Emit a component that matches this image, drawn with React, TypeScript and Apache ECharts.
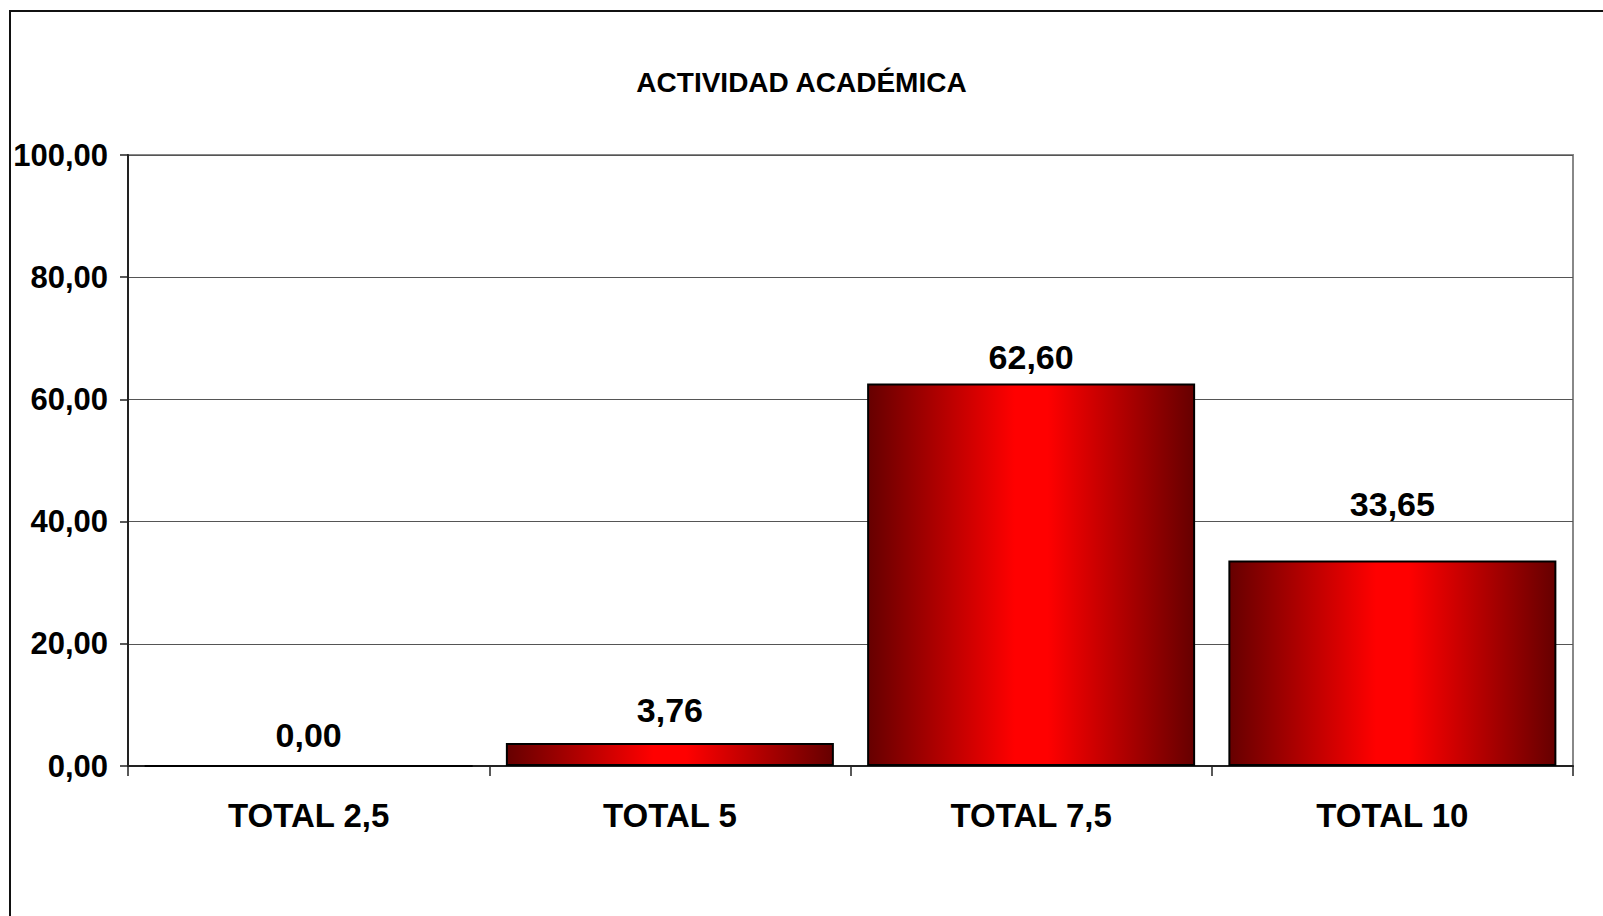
import React, { useEffect, useRef } from "react";
import * as echarts from "echarts";

const categories = ["TOTAL 2,5", "TOTAL 5", "TOTAL 7,5", "TOTAL 10"];
const values = [0.0, 3.76, 62.6, 33.65];
const titleText = "ACTIVIDAD ACADÉMICA";
const yMin = 0;
const yMax = 100;
const yInterval = 20;

const FONT = "'Liberation Sans', Arial, sans-serif";
const fmt = (v: number) => Number(v).toFixed(2).replace(".", ",");

export default function App() {
  const ref = useRef<HTMLDivElement>(null);
  useEffect(() => {
    if (!ref.current) return;
    const chart = echarts.init(ref.current, null, { renderer: "svg" });
    const grad = new echarts.graphic.LinearGradient(0, 0, 1, 0, [
      { offset: 0, color: "#660000" },
      { offset: 0.45, color: "#ff0000" },
      { offset: 0.55, color: "#ff0000" },
      { offset: 1, color: "#660000" },
    ]);
    // label vertical nudges (style only), matching the reference placement
    const labelNudge = [-3, -6, 0, -29];
    chart.setOption({
      animation: false,
      backgroundColor: "#ffffff",
      title: {
        text: titleText,
        left: "center",
        top: 63,
        textStyle: { fontFamily: FONT, fontWeight: "bold", fontSize: 28, color: "#000" },
      },
      graphic: [
        {
          type: "rect",
          shape: { x: 10, y: 11, width: 1700, height: 1000 },
          style: { fill: "none", stroke: "#111", lineWidth: 2 },
          silent: true,
          z: 100,
        },
      ],
      grid: {
        left: 128,
        top: 155,
        right: 30,
        bottom: 150,
        show: true,
        borderColor: "#888",
        borderWidth: 2,
        backgroundColor: "transparent",
      },
      xAxis: {
        type: "category",
        data: categories,
        axisLine: { show: true, lineStyle: { color: "#222", width: 2 } },
        axisTick: { show: true, alignWithLabel: false, length: 10, lineStyle: { color: "#222", width: 1.5 } },
        axisLabel: {
          margin: 33,
          fontFamily: FONT,
          fontWeight: "bold",
          fontSize: 33,
          color: "#000",
        },
        splitLine: { show: false },
      },
      yAxis: {
        type: "value",
        min: yMin,
        max: yMax,
        interval: yInterval,
        axisLine: { show: true, lineStyle: { color: "#222", width: 2 } },
        axisTick: { show: true, length: 8, lineStyle: { color: "#222", width: 1.5 } },
        axisLabel: {
          margin: 20,
          fontFamily: FONT,
          fontWeight: "bold",
          fontSize: 31,
          color: "#000",
          formatter: (v: number) => fmt(v),
        },
        splitLine: { show: true, lineStyle: { color: "#555", width: 1 } },
      },
      series: [
        {
          type: "bar",
          data: values.map((v, i) => ({
            value: v,
            label: { offset: [0, labelNudge[i]] },
          })),
          barWidth: 328,
          itemStyle: { color: grad, borderColor: "#000", borderWidth: 2 },
          label: {
            show: true,
            position: "top",
            distance: 10,
            fontFamily: FONT,
            fontWeight: "bold",
            fontSize: 34,
            color: "#000",
            formatter: (p: any) => fmt(p.value),
          },
        },
      ],
    });
    return () => chart.dispose();
  }, []);
  return (
    <div
      ref={ref}
      style={{ position: "fixed", left: 0, top: 0, width: 1603, height: 916, background: "#fff" }}
    />
  );
}
